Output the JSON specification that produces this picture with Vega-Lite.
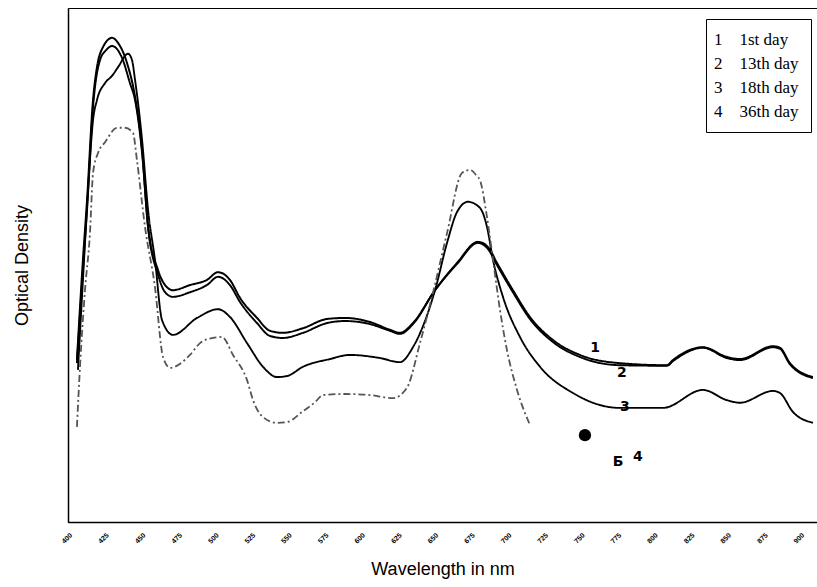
{
  "$schema": "https://vega.github.io/schema/vega-lite/v6.json",
  "width": 749,
  "height": 514,
  "autosize": {"type": "none"},
  "padding": {"left": 68, "top": 8, "right": 0, "bottom": 65},
  "background": "white",
  "config": {
    "view": {"stroke": "black", "strokeWidth": 1},
    "axis": {"grid": false, "domainColor": "black", "domainWidth": 1.5, "labelColor": "black", "titleColor": "black", "titleFont": "Liberation Sans", "titleFontWeight": "normal", "titleFontSize": 18}
  },
  "datasets": {
    "spectra": [
      {"day": "1st day", "wavelength": 406.1, "od": 0.315},
      {"day": "1st day", "wavelength": 410.2, "od": 0.510},
      {"day": "1st day", "wavelength": 413.0, "od": 0.626},
      {"day": "1st day", "wavelength": 417.1, "od": 0.821},
      {"day": "1st day", "wavelength": 419.8, "od": 0.885},
      {"day": "1st day", "wavelength": 423.9, "od": 0.924},
      {"day": "1st day", "wavelength": 430.1, "od": 0.942},
      {"day": "1st day", "wavelength": 434.2, "od": 0.932},
      {"day": "1st day", "wavelength": 440.3, "od": 0.893},
      {"day": "1st day", "wavelength": 445.8, "od": 0.827},
      {"day": "1st day", "wavelength": 450.6, "od": 0.724},
      {"day": "1st day", "wavelength": 454.7, "od": 0.574},
      {"day": "1st day", "wavelength": 461.5, "od": 0.490},
      {"day": "1st day", "wavelength": 466.3, "od": 0.461},
      {"day": "1st day", "wavelength": 471.7, "od": 0.451},
      {"day": "1st day", "wavelength": 483.3, "od": 0.461},
      {"day": "1st day", "wavelength": 494.9, "od": 0.471},
      {"day": "1st day", "wavelength": 502.5, "od": 0.486},
      {"day": "1st day", "wavelength": 510.6, "od": 0.471},
      {"day": "1st day", "wavelength": 517.5, "od": 0.436},
      {"day": "1st day", "wavelength": 529.1, "od": 0.397},
      {"day": "1st day", "wavelength": 537.9, "od": 0.372},
      {"day": "1st day", "wavelength": 546.8, "od": 0.368},
      {"day": "1st day", "wavelength": 560.5, "od": 0.377},
      {"day": "1st day", "wavelength": 576.9, "od": 0.395},
      {"day": "1st day", "wavelength": 589.2, "od": 0.397},
      {"day": "1st day", "wavelength": 606.3, "od": 0.389},
      {"day": "1st day", "wavelength": 619.9, "od": 0.374},
      {"day": "1st day", "wavelength": 626.8, "od": 0.368},
      {"day": "1st day", "wavelength": 635.6, "od": 0.387},
      {"day": "1st day", "wavelength": 650.7, "od": 0.451},
      {"day": "1st day", "wavelength": 665.7, "od": 0.504},
      {"day": "1st day", "wavelength": 680.0, "od": 0.545},
      {"day": "1st day", "wavelength": 686.9, "od": 0.535},
      {"day": "1st day", "wavelength": 693.0, "od": 0.504},
      {"day": "1st day", "wavelength": 703.9, "od": 0.451},
      {"day": "1st day", "wavelength": 715.5, "od": 0.399},
      {"day": "1st day", "wavelength": 731.3, "od": 0.354},
      {"day": "1st day", "wavelength": 749.7, "od": 0.325},
      {"day": "1st day", "wavelength": 777.0, "od": 0.309},
      {"day": "1st day", "wavelength": 809.1, "od": 0.305},
      {"day": "1st day", "wavelength": 813.2, "od": 0.315},
      {"day": "1st day", "wavelength": 833.7, "od": 0.340},
      {"day": "1st day", "wavelength": 850.1, "od": 0.321},
      {"day": "1st day", "wavelength": 859.0, "od": 0.317},
      {"day": "1st day", "wavelength": 881.5, "od": 0.342},
      {"day": "1st day", "wavelength": 886.3, "od": 0.339},
      {"day": "1st day", "wavelength": 893.1, "od": 0.309},
      {"day": "1st day", "wavelength": 908.8, "od": 0.282},

      {"day": "13th day", "wavelength": 406.1, "od": 0.309},
      {"day": "13th day", "wavelength": 410.2, "od": 0.490},
      {"day": "13th day", "wavelength": 413.0, "od": 0.607},
      {"day": "13th day", "wavelength": 417.1, "od": 0.807},
      {"day": "13th day", "wavelength": 421.9, "od": 0.899},
      {"day": "13th day", "wavelength": 426.0, "od": 0.918},
      {"day": "13th day", "wavelength": 430.1, "od": 0.926},
      {"day": "13th day", "wavelength": 436.9, "od": 0.903},
      {"day": "13th day", "wavelength": 442.3, "od": 0.854},
      {"day": "13th day", "wavelength": 445.8, "od": 0.821},
      {"day": "13th day", "wavelength": 450.6, "od": 0.718},
      {"day": "13th day", "wavelength": 454.7, "od": 0.574},
      {"day": "13th day", "wavelength": 461.5, "od": 0.481},
      {"day": "13th day", "wavelength": 466.3, "od": 0.447},
      {"day": "13th day", "wavelength": 471.7, "od": 0.438},
      {"day": "13th day", "wavelength": 483.3, "od": 0.447},
      {"day": "13th day", "wavelength": 494.9, "od": 0.461},
      {"day": "13th day", "wavelength": 502.5, "od": 0.477},
      {"day": "13th day", "wavelength": 510.6, "od": 0.461},
      {"day": "13th day", "wavelength": 517.5, "od": 0.428},
      {"day": "13th day", "wavelength": 529.1, "od": 0.387},
      {"day": "13th day", "wavelength": 537.9, "od": 0.362},
      {"day": "13th day", "wavelength": 546.8, "od": 0.358},
      {"day": "13th day", "wavelength": 560.5, "od": 0.368},
      {"day": "13th day", "wavelength": 576.9, "od": 0.387},
      {"day": "13th day", "wavelength": 589.2, "od": 0.391},
      {"day": "13th day", "wavelength": 606.3, "od": 0.385},
      {"day": "13th day", "wavelength": 619.9, "od": 0.372},
      {"day": "13th day", "wavelength": 626.8, "od": 0.366},
      {"day": "13th day", "wavelength": 635.6, "od": 0.385},
      {"day": "13th day", "wavelength": 650.7, "od": 0.451},
      {"day": "13th day", "wavelength": 665.7, "od": 0.502},
      {"day": "13th day", "wavelength": 680.0, "od": 0.543},
      {"day": "13th day", "wavelength": 686.9, "od": 0.531},
      {"day": "13th day", "wavelength": 693.0, "od": 0.500},
      {"day": "13th day", "wavelength": 703.9, "od": 0.447},
      {"day": "13th day", "wavelength": 715.5, "od": 0.395},
      {"day": "13th day", "wavelength": 731.3, "od": 0.350},
      {"day": "13th day", "wavelength": 749.7, "od": 0.321},
      {"day": "13th day", "wavelength": 777.0, "od": 0.305},
      {"day": "13th day", "wavelength": 809.1, "od": 0.304},
      {"day": "13th day", "wavelength": 813.2, "od": 0.313},
      {"day": "13th day", "wavelength": 833.7, "od": 0.339},
      {"day": "13th day", "wavelength": 850.1, "od": 0.319},
      {"day": "13th day", "wavelength": 859.0, "od": 0.315},
      {"day": "13th day", "wavelength": 881.5, "od": 0.340},
      {"day": "13th day", "wavelength": 886.3, "od": 0.337},
      {"day": "13th day", "wavelength": 893.1, "od": 0.307},
      {"day": "13th day", "wavelength": 908.8, "od": 0.280},

      {"day": "18th day", "wavelength": 406.8, "od": 0.296},
      {"day": "18th day", "wavelength": 410.2, "od": 0.471},
      {"day": "18th day", "wavelength": 413.7, "od": 0.646},
      {"day": "18th day", "wavelength": 417.1, "od": 0.782},
      {"day": "18th day", "wavelength": 419.8, "od": 0.821},
      {"day": "18th day", "wavelength": 425.3, "od": 0.854},
      {"day": "18th day", "wavelength": 430.1, "od": 0.868},
      {"day": "18th day", "wavelength": 434.2, "od": 0.885},
      {"day": "18th day", "wavelength": 441.0, "od": 0.911},
      {"day": "18th day", "wavelength": 443.7, "od": 0.899},
      {"day": "18th day", "wavelength": 445.8, "od": 0.860},
      {"day": "18th day", "wavelength": 450.6, "od": 0.743},
      {"day": "18th day", "wavelength": 454.7, "od": 0.607},
      {"day": "18th day", "wavelength": 459.4, "od": 0.510},
      {"day": "18th day", "wavelength": 464.2, "od": 0.393},
      {"day": "18th day", "wavelength": 471.7, "od": 0.364},
      {"day": "18th day", "wavelength": 488.1, "od": 0.397},
      {"day": "18th day", "wavelength": 502.5, "od": 0.414},
      {"day": "18th day", "wavelength": 510.6, "od": 0.399},
      {"day": "18th day", "wavelength": 522.3, "od": 0.348},
      {"day": "18th day", "wavelength": 533.2, "od": 0.302},
      {"day": "18th day", "wavelength": 542.7, "od": 0.282},
      {"day": "18th day", "wavelength": 549.6, "od": 0.284},
      {"day": "18th day", "wavelength": 560.5, "od": 0.302},
      {"day": "18th day", "wavelength": 578.9, "od": 0.317},
      {"day": "18th day", "wavelength": 592.6, "od": 0.325},
      {"day": "18th day", "wavelength": 613.1, "od": 0.319},
      {"day": "18th day", "wavelength": 626.8, "od": 0.311},
      {"day": "18th day", "wavelength": 635.6, "od": 0.340},
      {"day": "18th day", "wavelength": 650.7, "od": 0.451},
      {"day": "18th day", "wavelength": 658.9, "od": 0.543},
      {"day": "18th day", "wavelength": 665.7, "od": 0.603},
      {"day": "18th day", "wavelength": 673.2, "od": 0.623},
      {"day": "18th day", "wavelength": 681.4, "od": 0.611},
      {"day": "18th day", "wavelength": 686.2, "od": 0.574},
      {"day": "18th day", "wavelength": 690.3, "od": 0.510},
      {"day": "18th day", "wavelength": 697.1, "od": 0.438},
      {"day": "18th day", "wavelength": 708.7, "od": 0.360},
      {"day": "18th day", "wavelength": 722.4, "od": 0.302},
      {"day": "18th day", "wavelength": 744.9, "od": 0.251},
      {"day": "18th day", "wavelength": 777.0, "od": 0.222},
      {"day": "18th day", "wavelength": 806.4, "od": 0.222},
      {"day": "18th day", "wavelength": 833.7, "od": 0.257},
      {"day": "18th day", "wavelength": 850.1, "od": 0.237},
      {"day": "18th day", "wavelength": 859.0, "od": 0.232},
      {"day": "18th day", "wavelength": 881.5, "od": 0.255},
      {"day": "18th day", "wavelength": 886.3, "od": 0.251},
      {"day": "18th day", "wavelength": 895.2, "od": 0.214},
      {"day": "18th day", "wavelength": 908.8, "od": 0.193},

      {"day": "36th day", "wavelength": 406.1, "od": 0.185},
      {"day": "36th day", "wavelength": 408.2, "od": 0.302},
      {"day": "36th day", "wavelength": 411.6, "od": 0.451},
      {"day": "36th day", "wavelength": 415.0, "od": 0.562},
      {"day": "36th day", "wavelength": 417.1, "od": 0.679},
      {"day": "36th day", "wavelength": 420.5, "od": 0.718},
      {"day": "36th day", "wavelength": 425.3, "od": 0.739},
      {"day": "36th day", "wavelength": 433.5, "od": 0.767},
      {"day": "36th day", "wavelength": 438.9, "od": 0.767},
      {"day": "36th day", "wavelength": 444.4, "od": 0.757},
      {"day": "36th day", "wavelength": 447.1, "od": 0.704},
      {"day": "36th day", "wavelength": 452.6, "od": 0.574},
      {"day": "36th day", "wavelength": 459.4, "od": 0.457},
      {"day": "36th day", "wavelength": 464.9, "od": 0.321},
      {"day": "36th day", "wavelength": 469.7, "od": 0.300},
      {"day": "36th day", "wavelength": 483.3, "od": 0.325},
      {"day": "36th day", "wavelength": 490.2, "od": 0.348},
      {"day": "36th day", "wavelength": 495.6, "od": 0.356},
      {"day": "36th day", "wavelength": 505.2, "od": 0.360},
      {"day": "36th day", "wavelength": 512.7, "od": 0.325},
      {"day": "36th day", "wavelength": 522.3, "od": 0.276},
      {"day": "36th day", "wavelength": 526.4, "od": 0.237},
      {"day": "36th day", "wavelength": 533.2, "od": 0.204},
      {"day": "36th day", "wavelength": 542.7, "od": 0.193},
      {"day": "36th day", "wavelength": 550.3, "od": 0.195},
      {"day": "36th day", "wavelength": 559.8, "od": 0.214},
      {"day": "36th day", "wavelength": 568.7, "od": 0.233},
      {"day": "36th day", "wavelength": 574.2, "od": 0.247},
      {"day": "36th day", "wavelength": 589.2, "od": 0.249},
      {"day": "36th day", "wavelength": 606.3, "od": 0.247},
      {"day": "36th day", "wavelength": 622.0, "od": 0.241},
      {"day": "36th day", "wavelength": 631.5, "od": 0.261},
      {"day": "36th day", "wavelength": 640.4, "od": 0.348},
      {"day": "36th day", "wavelength": 649.3, "od": 0.446},
      {"day": "36th day", "wavelength": 658.9, "od": 0.562},
      {"day": "36th day", "wavelength": 669.1, "od": 0.679},
      {"day": "36th day", "wavelength": 674.6, "od": 0.685},
      {"day": "36th day", "wavelength": 679.3, "od": 0.673},
      {"day": "36th day", "wavelength": 681.4, "od": 0.665},
      {"day": "36th day", "wavelength": 686.2, "od": 0.593},
      {"day": "36th day", "wavelength": 690.3, "od": 0.510},
      {"day": "36th day", "wavelength": 695.1, "od": 0.412},
      {"day": "36th day", "wavelength": 699.8, "od": 0.335},
      {"day": "36th day", "wavelength": 706.7, "od": 0.257},
      {"day": "36th day", "wavelength": 715.5, "od": 0.189}
    ],
    "notes": [
      {"label": "1", "wavelength": 760.0, "od": 0.339},
      {"label": "2", "wavelength": 778.4, "od": 0.290},
      {"label": "3", "wavelength": 780.4, "od": 0.224},
      {"label": "Б", "wavelength": 775.7, "od": 0.117},
      {"label": "4", "wavelength": 789.3, "od": 0.126}
    ],
    "blob": [
      {"wavelength": 753.1, "od": 0.169}
    ]
  },
  "layer": [
    {
      "data": {"name": "spectra"},
      "mark": {"type": "line", "interpolate": "monotone"},
      "encoding": {
        "x": {
          "field": "wavelength", "type": "quantitative",
          "scale": {"domain": [400, 911.6], "nice": false, "zero": false},
          "axis": {
            "title": "Wavelength in nm",
            "values": [400, 425, 450, 475, 500, 525, 550, 575, 600, 625, 650, 675, 700, 725, 750, 775, 800, 825, 850, 875, 900],
            "tickCount": 40,
            "format": "d",
            "labelAngle": -45, "labelFontSize": 7, "labelFont": "Liberation Sans", "labelFontWeight": "bold",
            "labelOverlap": false, "labelBound": false, "labelFlush": false, "labelSeparation": 0,
            "ticks": false, "labelPadding": 9, "titlePadding": 16
          }
        },
        "y": {
          "field": "od", "type": "quantitative",
          "scale": {"domain": [0, 1], "nice": false},
          "axis": {"title": "Optical Density", "labels": false, "ticks": false, "titlePadding": 37}
        },
        "color": {
          "field": "day", "type": "nominal",
          "scale": {"domain": ["1st day", "13th day", "18th day", "36th day"], "range": ["#000000", "#000000", "#000000", "#555555"]},
          "legend": {
            "orient": "none", "legendX": 638, "legendY": 11, "title": null,
            "strokeColor": "black", "fillColor": "white", "padding": 12,
            "labelFont": "Liberation Serif", "labelFontSize": 17, "labelColor": "black",
            "labelLimit": 200, "labelOffset": -21, "rowPadding": 6,
            "symbolSize": 0, "symbolStrokeWidth": 0, "symbolOpacity": 0,
            "labelExpr": "(indexof(['1st day','13th day','18th day','36th day'], datum.label) + 1) + '\u00a0\u00a0\u00a0\u00a0' + datum.label"
          }
        },
        "strokeDash": {
          "field": "day", "type": "nominal",
          "scale": {"domain": ["1st day", "13th day", "18th day", "36th day"], "range": [[1, 0], [1, 0], [1, 0], [7, 3, 2, 3]]},
          "legend": null
        },
        "strokeWidth": {
          "field": "day", "type": "nominal",
          "scale": {"domain": ["1st day", "13th day", "18th day", "36th day"], "range": [2, 1.8, 2, 0.9]},
          "legend": null
        }
      }
    },
    {
      "data": {"name": "notes"},
      "mark": {"type": "text", "font": "DejaVu Sans", "fontSize": 14, "fontWeight": "bold", "color": "black", "align": "center", "baseline": "middle"},
      "encoding": {
        "x": {"field": "wavelength", "type": "quantitative"},
        "y": {"field": "od", "type": "quantitative"},
        "text": {"field": "label"}
      }
    },
    {
      "data": {"name": "blob"},
      "mark": {"type": "point", "shape": "circle", "filled": true, "color": "black", "size": 150, "opacity": 1},
      "encoding": {
        "x": {"field": "wavelength", "type": "quantitative"},
        "y": {"field": "od", "type": "quantitative"}
      }
    }
  ]
}
